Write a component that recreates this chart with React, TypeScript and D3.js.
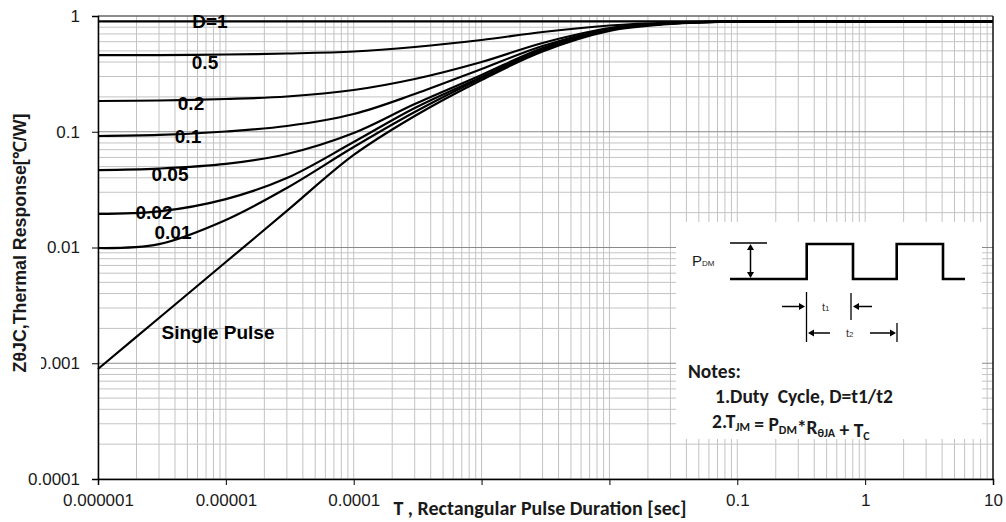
import { useEffect, useRef } from 'react';
import * as d3 from 'd3';

// pulse durations (sec) at which the curves were read
const durations = [1e-6, 3e-6, 1e-5, 3e-5, 1e-4, 3e-4, 1e-3, 3e-3, 1e-2, 3e-2, 0.1, 1, 10];

// thermal response Zth (degC/W) per duty cycle
const dutyD1 = [0.9, 0.9, 0.9, 0.9, 0.9, 0.9, 0.9, 0.9, 0.9, 0.9, 0.9, 0.9, 0.9];
const dutyD05 = [0.46, 0.46, 0.465, 0.4743, 0.4935, 0.5399, 0.6204, 0.7277, 0.8278, 0.8787, 0.898, 0.9, 0.9];
const dutyD02 = [0.1843, 0.1862, 0.1918, 0.2016, 0.2295, 0.2856, 0.4005, 0.5844, 0.7873, 0.87, 0.8964, 0.9, 0.9];
const dutyD01 = [0.0919, 0.0938, 0.1005, 0.1121, 0.1423, 0.2119, 0.3485, 0.5505, 0.7722, 0.8614, 0.8964, 0.9, 0.9];
const dutyD005 = [0.0467, 0.0481, 0.0527, 0.0643, 0.0976, 0.1737, 0.3093, 0.529, 0.7722, 0.8614, 0.8964, 0.9, 0.9];
const dutyD002 = [0.0195, 0.0205, 0.0262, 0.0398, 0.0815, 0.1604, 0.2972, 0.5135, 0.7645, 0.8614, 0.8964, 0.9, 0.9];
const dutyD001 = [0.0099, 0.0107, 0.0173, 0.0327, 0.0738, 0.1481, 0.2913, 0.5085, 0.7569, 0.8614, 0.8964, 0.9, 0.9];
const singlePulse = [0.000892, 0.00246, 0.00749, 0.0207, 0.063, 0.1368, 0.28, 0.4935, 0.7421, 0.8527, 0.8964, 0.9, 0.9];

const seriesList = [dutyD1, dutyD05, dutyD02, dutyD01, dutyD005, dutyD002, dutyD001, singlePulse];
const seriesLabels = ['D=1', '0.5', '0.2', '0.1', '0.05', '0.02', '0.01', 'Single Pulse'];

const xTicks = [1e-6, 1e-5, 1e-4, 1e-3, 1e-2, 0.1, 1, 10];
const xTickLabels = ['0.000001', '0.00001', '0.0001', '', '', '0.1', '1', '10'];
const yTicks = [1e-4, 1e-3, 1e-2, 0.1, 1];
const yTickLabels = ['0.0001', '0.001', '0.01', '0.1', '1'];

export default function App() {
  const svgRef = useRef<SVGSVGElement>(null);

  useEffect(() => {
    if (!svgRef.current) return;
    const svg = d3.select(svgRef.current);
    svg.selectAll('*').remove();

    const width = 1006;
    const height = 522;
    const margin = { top: 16, right: 13, bottom: 43, left: 98 };
    const chartWidth = width - margin.left - margin.right;
    const chartHeight = height - margin.top - margin.bottom;
    const ink = '#1a1a1a';

    svg.append('rect').attr('width', width).attr('height', height).attr('fill', '#fff');

    const g = svg.append('g').attr('transform', `translate(${margin.left},${margin.top})`);

    const x = d3.scaleLog().domain([1e-6, 10]).range([0, chartWidth]);
    const y = d3.scaleLog().domain([1e-4, 1]).range([chartHeight, 0]);

    // grid: 1..9 per decade
    const xGrid: number[] = [];
    for (let e = -6; e < 1; e++) for (let k = 1; k <= 9; k++) xGrid.push(k * Math.pow(10, e));
    const yMinor: number[] = [];
    for (let e = -4; e < 0; e++) for (let k = 2; k <= 9; k++) yMinor.push(k * Math.pow(10, e));

    g.selectAll('.vgrid')
      .data(xGrid)
      .enter()
      .append('line')
      .attr('x1', d => x(d)).attr('x2', d => x(d))
      .attr('y1', 0).attr('y2', chartHeight)
      .attr('stroke', '#c3c3c3')
      .attr('stroke-width', 1);

    g.selectAll('.hgrid')
      .data(yMinor)
      .enter()
      .append('line')
      .attr('x1', 0).attr('x2', chartWidth)
      .attr('y1', d => y(d)).attr('y2', d => y(d))
      .attr('stroke', '#c3c3c3')
      .attr('stroke-width', 1);

    g.selectAll('.hmajor')
      .data(yTicks)
      .enter()
      .append('line')
      .attr('x1', 0).attr('x2', chartWidth)
      .attr('y1', d => y(d)).attr('y2', d => y(d))
      .attr('stroke', '#8a8a8a')
      .attr('stroke-width', 1);

    // frame
    g.append('line')
      .attr('x1', 0).attr('x2', chartWidth).attr('y1', 0).attr('y2', 0)
      .attr('stroke', '#555').attr('stroke-width', 1.2);
    g.append('line')
      .attr('x1', chartWidth).attr('x2', chartWidth).attr('y1', 0).attr('y2', chartHeight)
      .attr('stroke', '#111').attr('stroke-width', 1.5);

    // curves
    const line = d3.line<number>()
      .x((_, i) => x(durations[i]))
      .y(d => y(d))
      .curve(d3.curveCatmullRom.alpha(0.5));

    g.selectAll('.curve')
      .data(seriesList)
      .enter()
      .append('path')
      .attr('d', d => line(d))
      .attr('fill', 'none')
      .attr('stroke', '#000')
      .attr('stroke-width', 2.2)
      .attr('stroke-linejoin', 'round');

    // axes
    const xAxis = d3.axisBottom(x)
      .tickValues(xTicks)
      .tickSize(6)
      .tickPadding(9)
      .tickFormat((_, i) => xTickLabels[i]);
    const xg = g.append('g').attr('transform', `translate(0,${chartHeight})`).call(xAxis);
    xg.select('.domain').attr('stroke', '#000').attr('stroke-width', 1.5);
    xg.selectAll('.tick line').attr('stroke', '#000');
    xg.selectAll('text')
      .attr('fill', ink)
      .style('font-family', '"Liberation Sans", Arial, sans-serif')
      .style('font-size', '17px');

    const yAxis = d3.axisLeft(y)
      .tickValues(yTicks)
      .tickSize(6)
      .tickPadding(12)
      .tickFormat((_, i) => yTickLabels[i]);
    const yg = g.append('g').call(yAxis);
    yg.select('.domain').attr('stroke', '#000').attr('stroke-width', 1.5);
    yg.selectAll('.tick line').attr('stroke', '#000');
    yg.selectAll('text')
      .attr('fill', ink)
      .style('font-family', '"Liberation Sans", Arial, sans-serif')
      .style('font-size', '17px');

    // curve labels
    const labelPos = [
      [210, 28], [205, 69], [191, 110], [188, 143], [170, 181], [154, 219], [173, 239], [218, 339],
    ];
    seriesLabels.forEach((lbl, i) => {
      svg.append('text')
        .attr('x', labelPos[i][0])
        .attr('y', labelPos[i][1])
        .attr('text-anchor', 'middle')
        .attr('fill', '#000')
        .style('font-family', '"Liberation Sans", Arial, sans-serif')
        .style('font-weight', '700')
        .style('font-size', '19px')
        .text(lbl);
    });

    // y-axis title (its box hides part of the 0.001 label)
    svg.append('rect').attr('x', 0).attr('y', 100).attr('width', 41).attr('height', 285).attr('fill', '#fff');
    svg.append('text')
      .attr('transform', 'translate(26,243) rotate(-90)')
      .attr('text-anchor', 'middle')
      .attr('fill', ink)
      .style('font-family', '"Liberation Sans", Arial, sans-serif')
      .style('font-weight', '700')
      .style('font-size', '17.8px')
      .text('ZθJC,Thermal Response[℃/W]');

    // x-axis title
    svg.append('text')
      .attr('x', 540)
      .attr('y', 515)
      .attr('text-anchor', 'middle')
      .attr('fill', ink)
      .style('font-family', 'Carlito, Lato, sans-serif')
      .style('font-weight', '700')
      .style('font-size', '20px')
      .text('T , Rectangular Pulse Duration [sec]');

    // inset with the pulse schematic and notes
    const inset = svg.append('g');
    inset.append('rect').attr('x', 676).attr('y', 222).attr('width', 306).attr('height', 217).attr('fill', '#fff');

    const pdm = inset.append('text')
      .attr('x', 692).attr('y', 266)
      .attr('fill', ink)
      .style('font-family', '"Liberation Sans", Arial, sans-serif');
    pdm.append('tspan').style('font-size', '15px').text('P');
    pdm.append('tspan').style('font-size', '8px').text('DM');

    const stroke = (x1: number, y1: number, x2: number, y2: number, w: number) =>
      inset.append('line')
        .attr('x1', x1).attr('y1', y1).attr('x2', x2).attr('y2', y2)
        .attr('stroke', '#000').attr('stroke-width', w);

    const head = (tx: number, ty: number, dir: 'up' | 'down' | 'left' | 'right') => {
      const s = 6;
      const w = 3.5;
      let p = '';
      if (dir === 'up') p = `M${tx},${ty}L${tx - w},${ty + s}L${tx + w},${ty + s}Z`;
      if (dir === 'down') p = `M${tx},${ty}L${tx - w},${ty - s}L${tx + w},${ty - s}Z`;
      if (dir === 'left') p = `M${tx},${ty}L${tx + s},${ty - w}L${tx + s},${ty + w}Z`;
      if (dir === 'right') p = `M${tx},${ty}L${tx - s},${ty - w}L${tx - s},${ty + w}Z`;
      inset.append('path').attr('d', p).attr('fill', '#000');
    };

    stroke(730, 243, 767, 243, 1.5);
    stroke(730, 279, 767, 279, 1.5);
    stroke(750.5, 246, 750.5, 276, 1.5);
    head(750.5, 244, 'up');
    head(750.5, 278, 'down');

    inset.append('polyline')
      .attr('points', '730,279 806.7,279 806.7,244 853,244 853,279 896.7,279 896.7,244 943,244 943,279 965,279')
      .attr('fill', 'none')
      .attr('stroke', '#000')
      .attr('stroke-width', 2.6);

    stroke(806.5, 292, 806.5, 342, 1.3);
    stroke(851, 293, 851, 320, 1.3);
    stroke(897, 323, 897, 342, 1.3);

    stroke(782, 306.5, 800, 306.5, 1.5);
    head(805, 306.5, 'right');
    stroke(872, 306.5, 858, 306.5, 1.5);
    head(853, 306.5, 'left');
    stroke(830, 333, 813, 333, 1.5);
    head(808, 333, 'left');
    stroke(870, 333, 891, 333, 1.5);
    head(896, 333, 'right');

    const small = (tx: number, ty: number, main: string, sub: string) => {
      const t = inset.append('text')
        .attr('x', tx).attr('y', ty)
        .attr('fill', '#333')
        .style('font-family', '"Liberation Sans", Arial, sans-serif');
      t.append('tspan').style('font-size', '11px').text(main);
      t.append('tspan').style('font-size', '8px').text(sub);
    };
    small(822, 311, 't', '1');
    small(846, 337, 't', '2');

    const noteFont = 'Carlito, Lato, sans-serif';
    const noteSize = '19.5px';
    inset.append('text')
      .attr('x', 688).attr('y', 378)
      .attr('fill', ink)
      .style('font-family', noteFont).style('font-weight', '700').style('font-size', noteSize)
      .text('Notes:');
    inset.append('text')
      .attr('x', 715).attr('y', 403)
      .attr('fill', ink)
      .style('font-family', noteFont).style('font-weight', '700').style('font-size', noteSize)
      .style('white-space', 'pre')
      .text('1.Duty  Cycle, D=t1/t2');

    const n2 = inset.append('text')
      .attr('x', 712).attr('y', 428)
      .attr('fill', ink)
      .style('font-family', noteFont).style('font-weight', '700').style('font-size', noteSize);
    const part = (txt: string, sub: boolean) => {
      n2.append('tspan')
        .attr('dy', sub ? 3 : 0)
        .style('font-size', sub ? '12px' : noteSize)
        .text(txt);
      if (sub) n2.append('tspan').attr('dy', -3).style('font-size', noteSize).text('');
    };
    part('2.T', false);
    part('JM', true);
    part(' = P', false);
    part('DM', true);
    part('*R', false);
    part('θJA', true);
    part(' + T', false);
    part('C', true);
  }, []);

  return (
    <svg
      ref={svgRef}
      width={1006}
      height={522}
      style={{ position: 'absolute', left: 0, top: 0 }}
    />
  );
}
